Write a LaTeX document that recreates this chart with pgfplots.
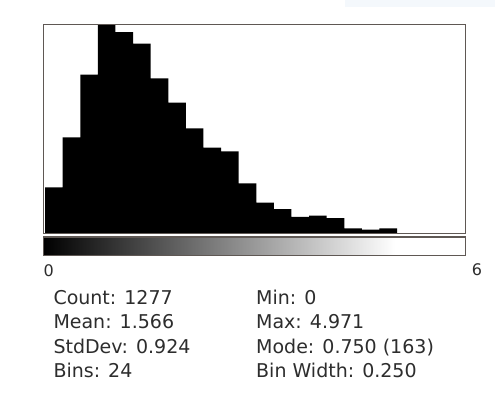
\documentclass[border=0pt]{standalone}
\usepackage{pgfplots}
\pgfplotsset{compat=1.18}
\usepackage{pgfplotstable}
\usepackage{fontspec}
\setmainfont{DejaVu Sans}
\definecolor{frame}{RGB}{95,88,84}
\definecolor{txt}{RGB}{45,45,45}
\definecolor{bgband}{RGB}{244,248,252}
\pgfplotstableread{
x count
0.00 36
0.25 75
0.50 124
0.75 163
1.00 157
1.25 148
1.50 121
1.75 102
2.00 82
2.25 67
2.50 64
2.75 39
3.00 24
3.25 19
3.50 13
3.75 14
4.00 12
4.25 4
4.50 3
4.75 4
5.00 0
}\histdata
\begin{document}
\begin{tikzpicture}[x=1pt,y=1pt]
\useasboundingbox (0,0) rectangle (495,396);
\fill[white] (0,0) rectangle (495,396);
\fill[bgband] (345,389) rectangle (495,396);
\begin{axis}[
  at={(43.3pt,162.5pt)}, anchor=south west,
  scale only axis, width=422.4pt, height=209pt,
  xmin=-0.025, xmax=5.975, ymin=0, ymax=163,
  xtick=\empty, ytick=\empty,
  axis line style={draw=frame, line width=1.1pt},
  axis on top,
]
\addplot[const plot, fill=black, draw=none] table[x=x,y=count]{\histdata} \closedcycle;
\end{axis}
\begin{axis}[
  at={(43.3pt,140.3pt)}, anchor=south west,
  scale only axis, width=422.4pt, height=18.7pt,
  xmin=-0.025, xmax=5.975, ymin=0, ymax=1,
  xtick=\empty, ytick=\empty,
  axis line style={draw=frame, line width=1.1pt},
  axis on top, clip=false,
]
\addplot[draw=none, fill=white] coordinates {(-0.025,0) (5.975,1)};
\shade[left color=black, right color=white] (axis cs:-0.025,0) rectangle (axis cs:4.97,1);
\node[anchor=base west, inner sep=0, font=\fontsize{16pt}{18pt}\selectfont, text=txt] at (rel axis cs:0,0) [yshift=-20.8pt] {0};
\node[anchor=base west, inner sep=0, font=\fontsize{16pt}{18pt}\selectfont, text=txt] at (rel axis cs:1,0) [xshift=6pt, yshift=-19.8pt] {6};
\end{axis}
\begin{scope}[every node/.style={anchor=base west, inner sep=0, text=txt, font=\fontsize{19pt}{23pt}\selectfont}]
\node at (53.3,91.7) {Count: 1277};
\node at (53.3,67.0) {Mean: 1.566};
\node at (53.3,42.3) {StdDev: 0.924};
\node at (53.3,18.0) {Bins: 24};
\node at (256,91.7) {Min: 0};
\node at (256,67.0) {Max: 4.971};
\node at (256,42.3) {Mode: 0.750 (163)};
\node at (256,18.0) {Bin Width: 0.250};
\end{scope}
\end{tikzpicture}
\end{document}
